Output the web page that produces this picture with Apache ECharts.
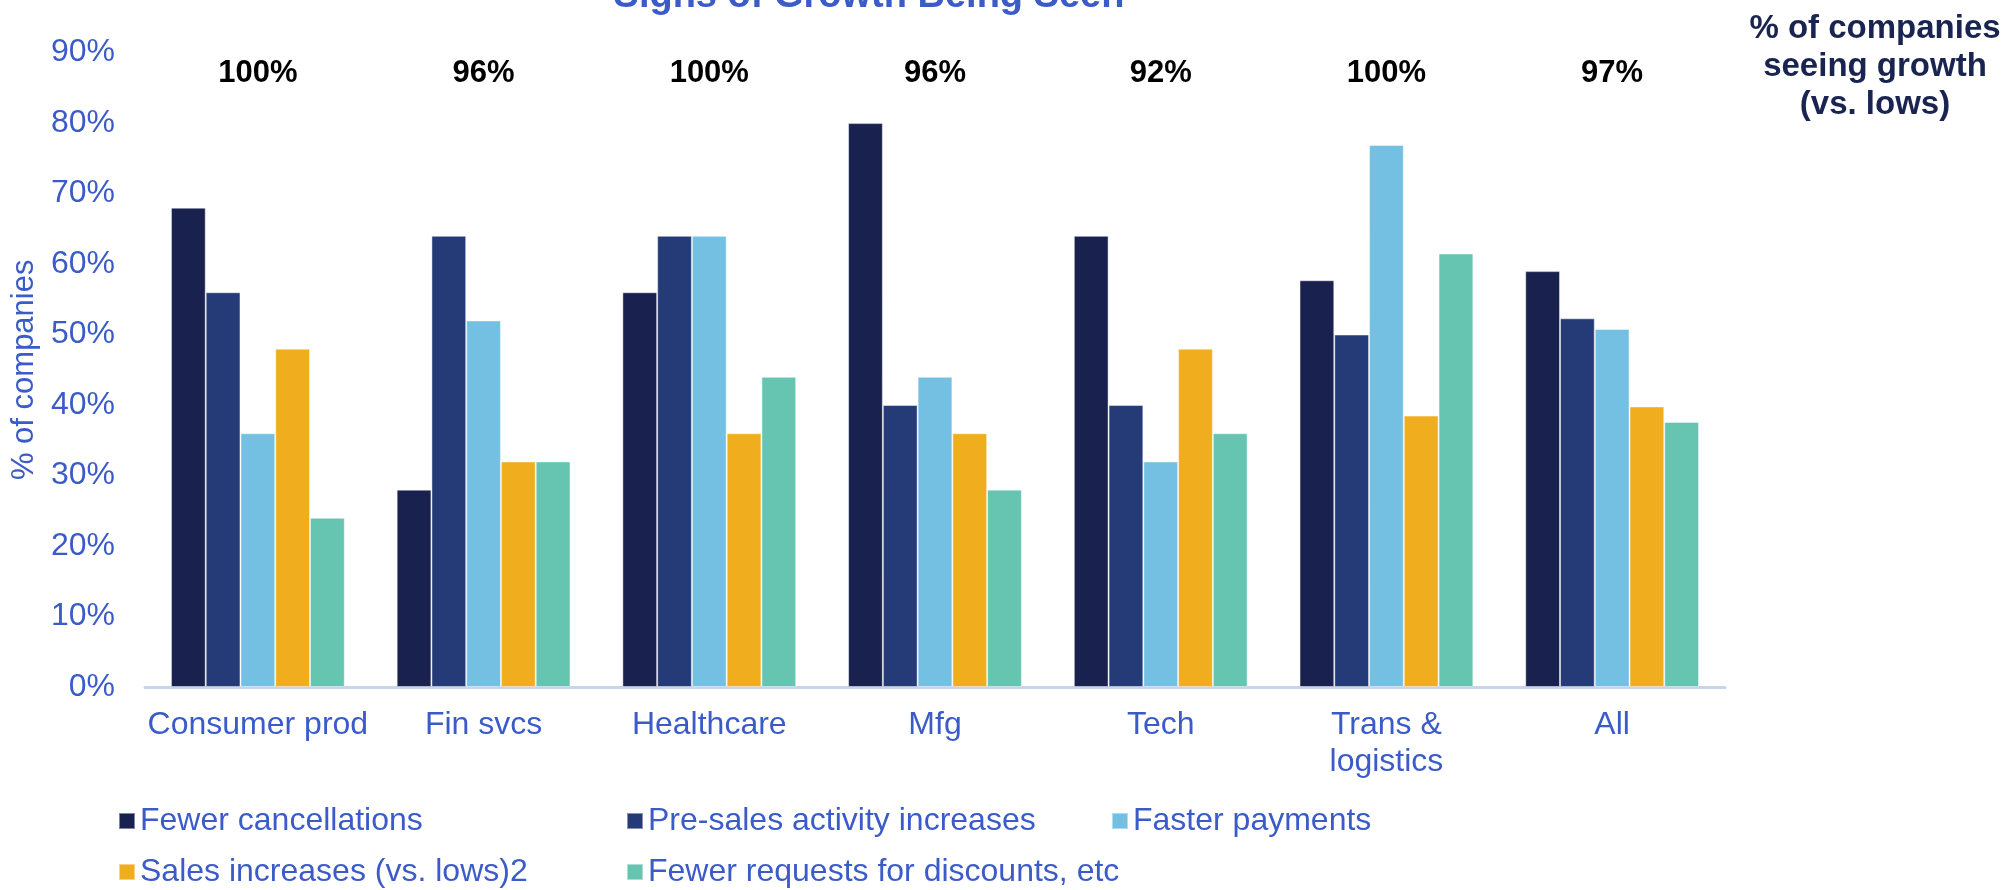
<!DOCTYPE html>
<html>
<head>
<meta charset="utf-8">
<script src="https://cdn.jsdelivr.net/npm/echarts@6/dist/echarts.min.js"></script>
<style>
  html, body { margin: 0; padding: 0; background: #fff; }
  #chart { width: 2011px; height: 890px; }
</style>
</head>
<body>
<div id="chart"></div>
<script>
// categories and values (percent of companies)
const categories = ['Consumer prod', 'Fin svcs', 'Healthcare', 'Mfg', 'Tech', 'Trans &\nlogistics', 'All']
const growthLabels = ['100%', '96%', '100%', '96%', '92%', '100%', '97%']

const fewerCancellations = [68, 28, 56, 80, 64, 57.7, 59]
const preSales = [56, 64, 64, 40, 40, 50, 52.3]
const fasterPayments = [36, 52, 64, 44, 32, 76.9, 50.8]
const salesIncreases = [48, 32, 36, 36, 48, 38.5, 39.8]
const fewerDiscounts = [24, 32, 44, 28, 36, 61.5, 37.6]

const seriesNames = [
  'Fewer cancellations',
  'Pre-sales activity increases',
  'Faster payments',
  'Sales increases (vs. lows)2',
  'Fewer requests for discounts, etc',
]
const seriesData = [fewerCancellations, preSales, fasterPayments, salesIncreases, fewerDiscounts]
const colors = ['#19224f', '#253b77', '#74c0e2', '#f0ae1f', '#65c5b1']

const blue = '#3b5bc8'
const font = 'Liberation Sans, Arial, sans-serif'

// legend slots: [left, top]
const legendSlots = [[118, 804], [626, 804], [1111, 804], [118, 855], [626, 855]]

const chart = echarts.init(document.getElementById('chart'), null, { renderer: 'canvas' })

chart.setOption({
  animation: false,
  color: colors,
  textStyle: { fontFamily: font },
  title: {
    text: 'Signs of Growth Being Seen',
    left: 864,
    textAlign: 'center',
    top: -27,
    textStyle: { color: blue, fontSize: 38, fontWeight: 'bold', fontFamily: font },
  },
  graphic: [{
    type: 'text',
    x: 1875,
    y: 10,
    style: {
      text: '% of companies\nseeing growth\n(vs. lows)',
      fill: '#1a2450',
      font: 'bold 33px Liberation Sans, Arial, sans-serif',
      lineHeight: 38,
      align: 'center',
    },
  }],
  legend: seriesNames.map((name, i) => ({
    data: [name],
    left: legendSlots[i][0],
    top: legendSlots[i][1],
    padding: 0,
    itemWidth: 16,
    itemHeight: 16,
    icon: 'rect',
    selectedMode: false,
    textStyle: { color: blue, fontSize: 32, fontFamily: font, lineHeight: 34, padding: [0, 0, 0, 0] },
  })),
  grid: { left: 145, right: 286, top: 52.6, bottom: 203, containLabel: false },
  xAxis: [{
    type: 'category',
    data: categories,
    axisLine: { lineStyle: { color: '#c9d3ea', width: 3 } },
    axisTick: { show: false },
    axisLabel: { color: blue, fontSize: 32, lineHeight: 37, margin: 20, interval: 0 },
  }, {
    type: 'category',
    position: 'top',
    offset: -36,
    data: growthLabels,
    axisLine: { show: false },
    axisTick: { show: false },
    axisLabel: { color: '#000', fontSize: 31, fontWeight: 'bold', margin: 0, interval: 0 },
  }],
  yAxis: {
    type: 'value',
    min: 0,
    max: 90,
    interval: 10,
    name: '% of companies',
    nameLocation: 'middle',
    nameGap: 100,
    nameTextStyle: { color: blue, fontSize: 31 },
    axisLine: { show: false },
    axisTick: { show: false },
    splitLine: { show: false },
    axisLabel: { color: blue, fontSize: 32, margin: 30, formatter: '{value}%' },
  },
  series: seriesNames.map((name, i) => ({
    name,
    type: 'bar',
    data: seriesData[i],
    barGap: '0%',
    barCategoryGap: '23%',
    itemStyle: { borderColor: 'rgba(255,255,255,0.45)', borderWidth: 1 },
  })),
})
</script>
</body>
</html>
